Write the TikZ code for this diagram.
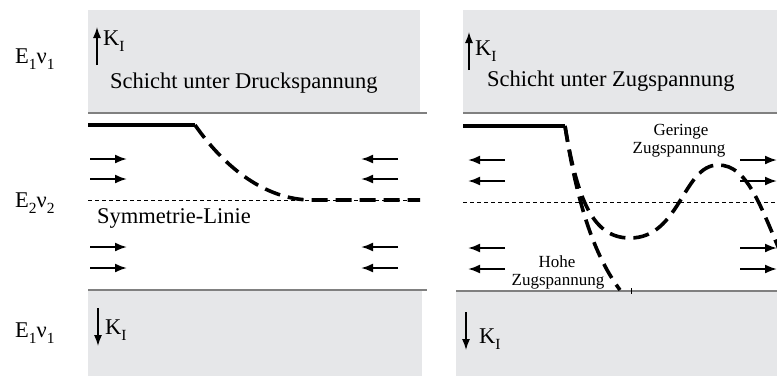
\documentclass[tikz,border=0pt]{standalone}
\usepackage{fontspec}
\setmainfont{Liberation Serif}
\usetikzlibrary{arrows.meta}
\definecolor{panelgray}{HTML}{E6E7E9}
\definecolor{edgegray}{HTML}{808080}
\newcommand\lowsub[1]{\raisebox{-0.28em}{\fontsize{15.5}{15.5}\selectfont #1}}
\begin{document}
\begin{tikzpicture}[x=1pt,y=-1pt,
  lbl/.style={anchor=base west, inner sep=0pt, font=\fontsize{22.5}{25}\selectfont},
  smalltxt/.style={anchor=base, inner sep=0pt, font=\fontsize{17}{18}\selectfont},
  force/.style={line width=2pt, -{Latex[length=12pt,width=9pt]}},
  karrow/.style={line width=1.3pt, -{Latex[length=11pt,width=8pt]}},
  edgeline/.style={draw=edgegray, line width=1.4pt},
  heavy/.style={line width=3.8pt},
  dashcurve/.style={line width=3.6pt, dash pattern=on 16pt off 8pt},
  symline/.style={line width=0.8pt, dash pattern=on 4pt off 3pt}
]
\useasboundingbox (0,0) rectangle (777,376);
\clip (0,0) rectangle (777,376);

% gray layers
\fill[panelgray] (88,10) rectangle (420,113);
\fill[panelgray] (463,10) rectangle (777,113);
\fill[panelgray] (88,290) rectangle (422,376);
\fill[panelgray] (456,291) rectangle (777,376);
\draw[edgeline] (88,113) -- (427,113);
\draw[edgeline] (463,113) -- (777,113);
\draw[edgeline] (88,290) -- (427,290);
\draw[edgeline] (456,291) -- (777,291);
\draw[line width=0.8pt] (631,288) -- (631,294);

% material labels
\node[lbl] (e1top) at (15,63) {E\lowsub{1}ν\lowsub{1}};
\node[lbl] (e2) at (15,207) {E\lowsub{2}ν\lowsub{2}};
\node[lbl] (e1bot) at (15,337) {E\lowsub{1}ν\lowsub{1}};

% K_I arrows and labels
\coordinate (kl1a) at (97,65); \coordinate (kl1b) at (97,27);
\draw[karrow] (kl1a) -- (kl1b);
\node[lbl] (kl1) at (103,45) {K\lowsub{I}};
\coordinate (kr1a) at (469,70); \coordinate (kr1b) at (469,32);
\draw[karrow] (kr1a) -- (kr1b);
\node[lbl] (kr1) at (475,55) {K\lowsub{I}};
\coordinate (kl2a) at (98,308); \coordinate (kl2b) at (98,346);
\draw[karrow] (kl2a) -- (kl2b);
\node[lbl] (kl2) at (105,334) {K\lowsub{I}};
\coordinate (kr2a) at (466,312); \coordinate (kr2b) at (466,350);
\draw[karrow] (kr2a) -- (kr2b);
\node[lbl] (kr2) at (479,343) {K\lowsub{I}};

\node[lbl] (druck) at (110,88) {Schicht unter Druckspannung};
\node[lbl] (zug) at (487,86) {Schicht unter Zugspannung};
\node[lbl] (sym) at (97,223) {Symmetrie-Linie};

% symmetry lines
\coordinate (sl1) at (88,200); \coordinate (sl2) at (420,200);
\draw[symline] (sl1) -- (sl2);
\coordinate (sr1) at (463,202); \coordinate (sr2) at (777,202);
\draw[symline] (sr1) -- (sr2);

% left panel: compression arrows
\foreach \y [count=\i] in {159,179,247,268}{
  \coordinate (la\i) at (90,\y); \coordinate (lb\i) at (127,\y);
  \draw[force] (la\i) -- (lb\i);
  \coordinate (lc\i) at (398,\y); \coordinate (ld\i) at (361,\y);
  \draw[force] (lc\i) -- (ld\i);
}
% right panel: tension arrows
\foreach \y [count=\i] in {160,181,248,269}{
  \coordinate (ra\i) at (505,\y); \coordinate (rb\i) at (468,\y);
  \draw[force] (ra\i) -- (rb\i);
  \coordinate (rc\i) at (740,\y); \coordinate (rd\i) at (777,\y);
  \draw[force] (rc\i) -- (rd\i);
}

% left curve
\coordinate (lp0) at (88,125); \coordinate (lp1) at (195,125);
\coordinate (lp2) at (310,200); \coordinate (lp3) at (420,200);
\draw[heavy] (lp0) -- (lp1);
\draw[dashcurve] (lp1) .. controls (225,168) and (265,199) .. (lp2) -- (lp3);

% right curves
\coordinate (rp0) at (463,126); \coordinate (rp1) at (565,126);
\coordinate (hend) at (620,290);
\coordinate (gmin) at (630,238); \coordinate (gmax) at (718,165);
\coordinate (gend) at (787,268);
\draw[heavy] (rp0) -- (rp1);
\draw[dashcurve] (rp1) .. controls (575,190) and (590,250) .. (hend);
\draw[dashcurve] (rp1) .. controls (578,205) and (595,238) .. (gmin)
   .. controls (680,238) and (683,165) .. (gmax)
   .. controls (748,165) and (760,205) .. (gend);

\node[smalltxt] (ger1) at (681,135) {Geringe};
\node[smalltxt] (ger2) at (679,153) {Zugspannung};
\node[smalltxt] (hoh1) at (557,267) {Hohe};
\node[smalltxt] (hoh2) at (558,285) {Zugspannung};
\end{tikzpicture}
\end{document}
